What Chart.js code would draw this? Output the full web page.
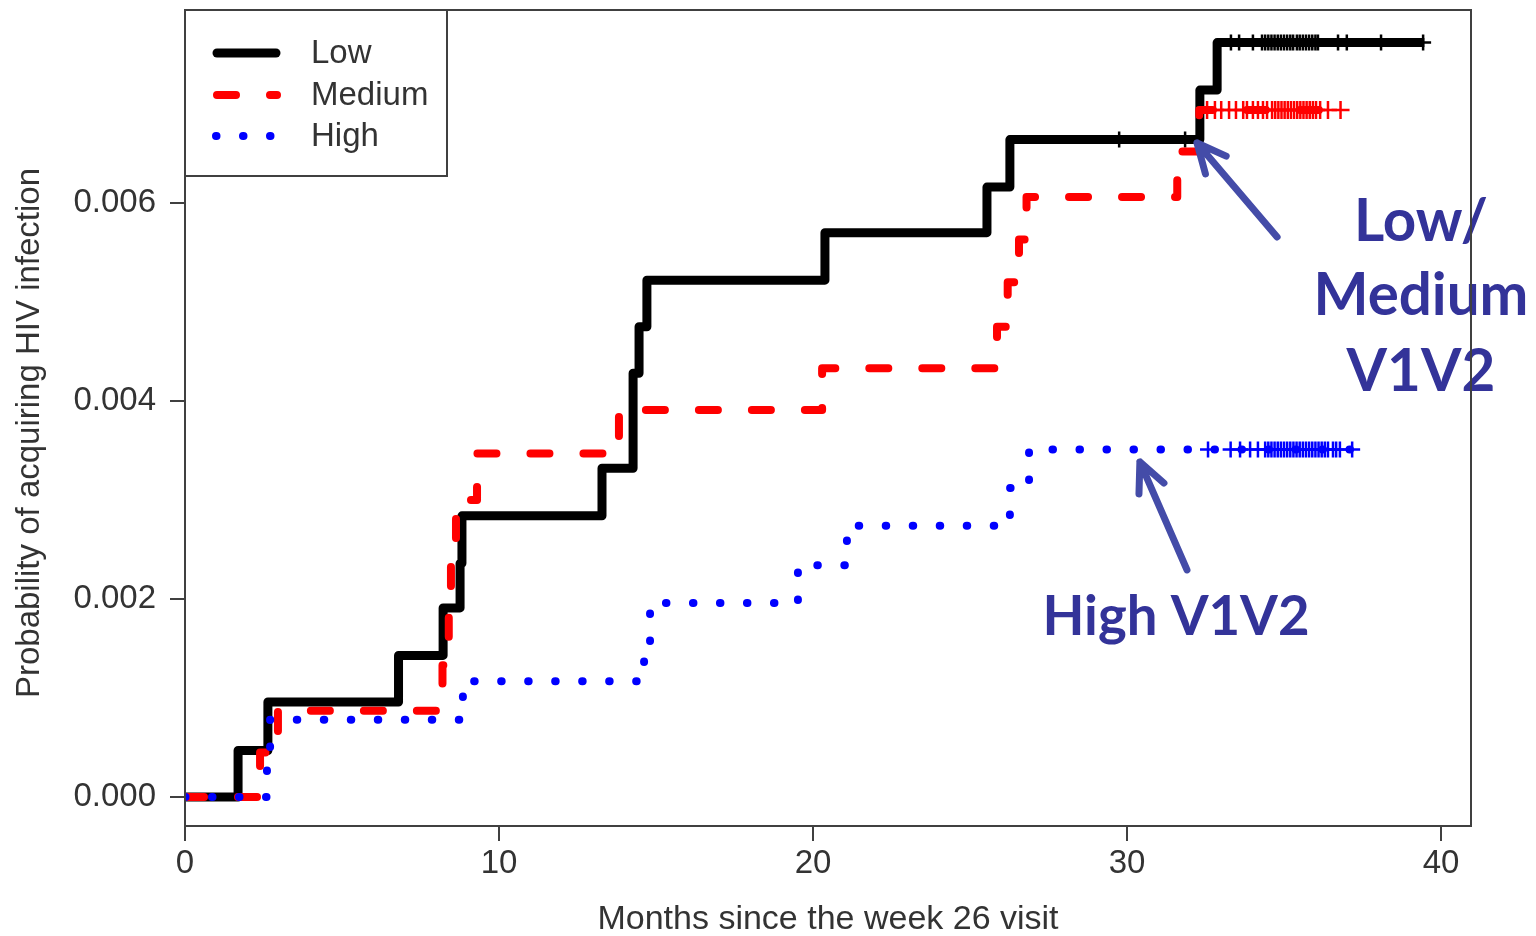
<!DOCTYPE html>
<html>
<head>
<meta charset="utf-8">
<script src="https://cdn.jsdelivr.net/npm/chart.js@4.4.1/dist/chart.umd.min.js"></script>
<style>
html,body{margin:0;padding:0;background:#fff;}
#wrap{width:1536px;height:936px;position:relative;}
</style>
</head>
<body>
<div id="wrap"><canvas id="c" width="1536" height="936"></canvas></div>
<script>
// ---------------- DATA ----------------
const seriesNames = ['Low', 'Medium', 'High'];

// Low V1V2 (event times in months, cumulative probability after the event)
const lowTimes = [0, 1.69, 2.64, 6.80, 8.22, 8.76, 8.82, 13.28, 14.27, 14.46, 14.71, 20.38, 25.54, 26.27, 32.32, 32.87];
const lowProb  = [0, 0.00047, 0.00096, 0.00143, 0.00191, 0.00236, 0.00284, 0.00332, 0.00428, 0.00475, 0.00522, 0.00570, 0.00616, 0.00664, 0.00714, 0.00762];
const lowEnd = 39.47;
const lowCensor = [29.75, 31.85, 33.31, 33.57, 34.01, 34.30, 34.40, 34.50, 34.60, 34.70, 34.80, 34.90, 35.00, 35.10, 35.20, 35.29,
                   35.41, 35.50, 35.60, 35.70, 35.80, 35.90, 36.00, 36.08, 36.72, 37.00, 38.09, 39.43];

// Medium V1V2
const medTimes = [0, 2.39, 2.96, 8.20, 8.40, 8.47, 8.63, 9.30, 13.82, 20.29, 25.86, 26.20, 26.56, 26.80, 31.60, 32.30];
const medProb  = [0, 0.00045, 0.00087, 0.00133, 0.00204, 0.00257, 0.00300, 0.00347, 0.00391, 0.00433, 0.00475, 0.00520, 0.00563, 0.00606, 0.00652, 0.00694];
const medEnd = 36.80;
const medCensor = [32.55, 32.80, 33.00, 33.25, 33.47, 33.70, 33.82, 34.01, 34.17, 34.33, 34.46, 34.62, 34.72, 34.82, 34.92, 35.02,
                   35.12, 35.22, 35.32, 35.42, 35.52, 35.62, 35.72, 35.82, 35.92, 36.02, 36.15, 36.40, 36.80];

// High V1V2
const highTimes = [0, 2.61, 2.71, 8.85, 14.62, 14.81, 19.52, 21.08, 26.27, 26.88];
const highProb  = [0, 0.00042, 0.00078, 0.00117, 0.00138, 0.00196, 0.00234, 0.00274, 0.00312, 0.00351];
const highEnd = 37.17;
const highCensor = [32.58, 33.30, 33.60, 33.92, 34.17, 34.40, 34.50, 34.60, 34.70, 34.80, 34.90, 35.00, 35.10, 35.20, 35.30,
                    35.40, 35.50, 35.60, 35.70, 35.80, 35.90, 36.00, 36.10, 36.20, 36.30, 36.40, 36.56, 36.66, 36.78, 37.17];

const xTicks = [0, 10, 20, 30, 40];
const yTicks = [0, 0.002, 0.004, 0.006];
const xTitle = 'Months since the week 26 visit';
const yTitle = 'Probability of acquiring HIV infection';
const annoLowMedLines = ['Low/', 'Medium', 'V1V2'];
const annoHighText = 'High V1V2';

// ---------------- HELPERS ----------------
function stepValue(times, probs, t) {
  let v = probs[0];
  for (let i = 0; i < times.length; i++) { if (times[i] <= t) v = probs[i]; }
  return v;
}
function curvePoints(times, probs, end) {
  const pts = times.map((t, i) => ({x: t, y: probs[i]}));
  pts.push({x: end, y: probs[probs.length - 1]});
  return pts;
}
function censorPoints(times, probs, cens) {
  return cens.map(t => ({x: t, y: stepValue(times, probs, t)}));
}

const AXIS_FONT = "'Liberation Sans', Arial, Helvetica, sans-serif";
const TEXT_COLOR = '#333333';
const COLORS = {Low: '#000000', Medium: '#ff0000', High: '#0000ff'};
const STYLES = {
  Low:    {width: 9, dash: [], cap: 'butt'},
  Medium: {width: 8, dash: [19, 34], cap: 'round'},
  High:   {width: 8, dash: [0.5, 26.5], cap: 'round'}
};

// annotation placement (data coordinates)
const annoLowMedPos = {x: 39.36, y: [0.005808, 0.005061, 0.004293]};
const annoHighPos = {x: 31.56, y: 0.001818};
const arrows = [
  {tail: {x: 34.78, y: 0.005657}, head: {x: 32.23, y: 0.006606}},
  {tail: {x: 31.91, y: 0.002293}, head: {x: 30.41, y: 0.003384}}
];

function lineDataset(name, times, probs, end, order) {
  const st = STYLES[name];
  return {
    label: name, data: curvePoints(times, probs, end),
    borderColor: COLORS[name], backgroundColor: COLORS[name],
    borderWidth: st.width, borderDash: st.dash, borderCapStyle: st.cap,
    borderJoinStyle: 'round', stepped: 'before', pointRadius: 0, fill: false, order: order
  };
}
function censorDataset(name, times, probs, cens, order, r) {
  return {
    label: name + ' censored', data: censorPoints(times, probs, cens),
    showLine: false, pointStyle: 'cross', pointRadius: r, pointHoverRadius: r,
    borderColor: COLORS[name], pointBorderColor: COLORS[name], backgroundColor: COLORS[name],
    pointBorderWidth: 2.5, borderWidth: 2.5, order: order
  };
}

const decorPlugin = {
  id: 'decor',
  afterDraw(chart) {
    const ctx = chart.ctx, xs = chart.scales.x, ys = chart.scales.y, ca = chart.chartArea;
    ctx.save();

    // ---- annotations ----
    ctx.fillStyle = '#333399';
    ctx.textAlign = 'center';
    ctx.textBaseline = 'middle';
    ctx.font = "bold 56px Lato, 'Open Sans', sans-serif";
    let w = ctx.measureText('Medium').width;
    let size = 56 * 215 / w;
    ctx.font = "bold " + size.toFixed(1) + "px Lato, 'Open Sans', sans-serif";
    annoLowMedLines.forEach((s, i) => {
      ctx.fillText(s, xs.getPixelForValue(annoLowMedPos.x), ys.getPixelForValue(annoLowMedPos.y[i]));
    });
    ctx.font = "bold 56px Lato, 'Open Sans', sans-serif";
    w = ctx.measureText(annoHighText).width;
    size = 56 * 267 / w;
    ctx.font = "bold " + size.toFixed(1) + "px Lato, 'Open Sans', sans-serif";
    ctx.fillText(annoHighText, xs.getPixelForValue(annoHighPos.x), ys.getPixelForValue(annoHighPos.y));

    ctx.strokeStyle = '#444ca8';
    ctx.lineWidth = 7;
    ctx.lineCap = 'round';
    ctx.lineJoin = 'round';
    arrows.forEach(a => {
      const tx = xs.getPixelForValue(a.tail.x), ty = ys.getPixelForValue(a.tail.y);
      const hx = xs.getPixelForValue(a.head.x), hy = ys.getPixelForValue(a.head.y);
      const ang = Math.atan2(ty - hy, tx - hx);
      const L = 32, spread = 0.44;
      ctx.beginPath();
      ctx.moveTo(tx, ty); ctx.lineTo(hx, hy);
      ctx.moveTo(hx + L * Math.cos(ang + spread), hy + L * Math.sin(ang + spread));
      ctx.lineTo(hx, hy);
      ctx.lineTo(hx + L * Math.cos(ang - spread), hy + L * Math.sin(ang - spread));
      ctx.stroke();
    });

    // ---- plot box ----
    ctx.setLineDash([]);
    ctx.lineCap = 'butt';
    ctx.lineJoin = 'miter';
    ctx.strokeStyle = '#404040';
    ctx.lineWidth = 2;
    ctx.strokeRect(ca.left, ca.top, ca.right - ca.left, ca.bottom - ca.top);

    // ---- legend ----
    const lx = ca.left, ly = ca.top, lw = 262, lh = 166;
    ctx.fillStyle = '#ffffff';
    ctx.fillRect(lx, ly, lw, lh);
    ctx.strokeRect(lx, ly, lw, lh);
    const rows = [43, 85, 126];
    seriesNames.forEach((name, i) => {
      const st = STYLES[name];
      const y = ly + rows[i];
      ctx.save();
      ctx.strokeStyle = COLORS[name];
      ctx.lineWidth = st.width;
      ctx.lineCap = name === 'Low' ? 'round' : st.cap;
      ctx.setLineDash(st.dash);
      ctx.beginPath();
      if (name === 'Low') { ctx.moveTo(lx + 32, y); ctx.lineTo(lx + 91, y); }
      else if (name === 'Medium') { ctx.moveTo(lx + 32, y); ctx.lineTo(lx + 92, y); }
      else { ctx.moveTo(lx + 31, y); ctx.lineTo(lx + 86, y); }
      ctx.stroke();
      ctx.restore();
      ctx.fillStyle = TEXT_COLOR;
      ctx.font = "33px " + AXIS_FONT;
      ctx.textAlign = 'left';
      ctx.textBaseline = 'middle';
      ctx.fillText(name, lx + 126, y + 1);
    });

    // ---- axis titles ----
    ctx.fillStyle = TEXT_COLOR;
    ctx.textAlign = 'center';
    ctx.textBaseline = 'middle';
    ctx.font = "34px " + AXIS_FONT;
    ctx.fillText(xTitle, (ca.left + ca.right) / 2, 920);
    ctx.save();
    ctx.translate(30, 433);
    ctx.rotate(-Math.PI / 2);
    ctx.font = "33px " + AXIS_FONT;
    ctx.fillText(yTitle, 0, 0);
    ctx.restore();

    ctx.restore();
  }
};

new Chart(document.getElementById('c'), {
  type: 'line',
  data: {
    datasets: [
      lineDataset('Low', lowTimes, lowProb, lowEnd, 6),
      censorDataset('Low', lowTimes, lowProb, lowCensor, 5, 8),
      lineDataset('Medium', medTimes, medProb, medEnd, 4),
      censorDataset('Medium', medTimes, medProb, medCensor, 3, 9),
      lineDataset('High', highTimes, highProb, highEnd, 2),
      censorDataset('High', highTimes, highProb, highCensor, 1, 8)
    ]
  },
  options: {
    responsive: false,
    animation: false,
    events: [],
    layout: {autoPadding: false, padding: {left: 0, top: 10, right: 65, bottom: 0}},
    plugins: {legend: {display: false}, tooltip: {enabled: false}},
    scales: {
      x: {
        type: 'linear', min: 0, max: 40.955,
        afterBuildTicks: s => { s.ticks = xTicks.map(v => ({value: v})); },
        afterFit: s => { s.height = 110; s.paddingLeft = 0; s.paddingRight = 0; s.paddingTop = 0; s.paddingBottom = 0; },
        grid: {drawOnChartArea: false, drawTicks: true, tickLength: 15, color: '#404040', lineWidth: 2},
        border: {display: false},
        ticks: {color: TEXT_COLOR, font: {family: AXIS_FONT, size: 33}, padding: 3, maxRotation: 0, autoSkip: false,
                callback: v => String(v)}
      },
      y: {
        type: 'linear', min: -0.000293, max: 0.007949,
        afterBuildTicks: s => { s.ticks = yTicks.map(v => ({value: v})); },
        afterFit: s => { s.width = 185; s.paddingLeft = 0; s.paddingRight = 0; s.paddingTop = 0; s.paddingBottom = 0; },
        grid: {drawOnChartArea: false, drawTicks: true, tickLength: 15, color: '#404040', lineWidth: 2},
        border: {display: false},
        ticks: {color: TEXT_COLOR, font: {family: AXIS_FONT, size: 33}, padding: 14, autoSkip: false,
                callback: v => Number(v).toFixed(3)}
      }
    }
  },
  plugins: [decorPlugin]
});
</script>
</body>
</html>
